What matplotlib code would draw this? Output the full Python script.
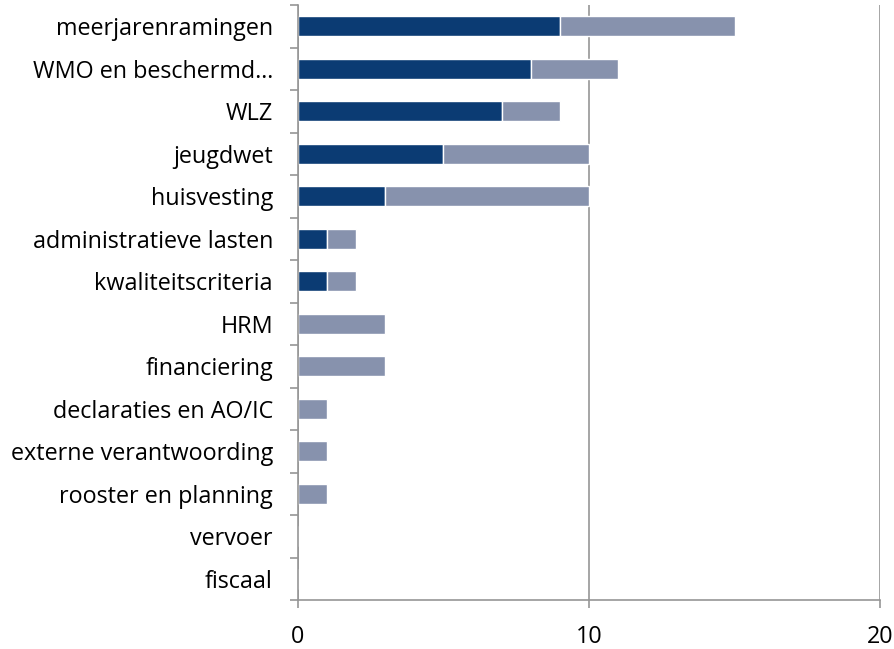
import matplotlib.pyplot as plt
import numpy as np

# Data
categories = ["meerjarenramingen", "WMO en beschermd…", "WLZ", "jeugdwet", "huisvesting",
              "administratieve lasten", "kwaliteitscriteria", "HRM", "financiering",
              "declaraties en AO/IC", "externe verantwoording", "rooster en planning",
              "vervoer", "fiscaal"]
series_a = [9, 8, 7, 5, 3, 1, 1, 0, 0, 0, 0, 0, 0, 0]
series_b = [6, 3, 2, 5, 7, 1, 1, 3, 3, 1, 1, 1, 0, 0]
x_ticks = [0, 10, 20]

plt.rcParams['font.family'] = ['Open Sans', 'DejaVu Sans']

fig = plt.figure(figsize=(8.95, 6.49), dpi=100)
ax = fig.add_axes([298 / 895, 1 - 600 / 649, 582 / 895, 595 / 649])

y = np.arange(len(categories))
ax.barh(y, series_a, height=0.47, color="#0B3B73", edgecolor="white", linewidth=1, zorder=2)
ax.barh(y, series_b, left=series_a, height=0.47, color="#8792AD", edgecolor="white", linewidth=1, zorder=2)

ax.set_ylim(len(categories) - 0.5, -0.5)
ax.set_xlim(0, 20)
ax.set_yticks(y)
ax.set_yticklabels(categories, fontsize=16.8)
ax.set_yticks(np.arange(-0.5, len(categories)), minor=True)
ax.tick_params(axis="y", which="major", length=0, pad=18)
ax.tick_params(axis="y", which="minor", length=6, color="#969696", width=1.2)
ax.set_xticks(x_ticks)
ax.tick_params(axis="x", length=6, color="#969696", width=1.2, labelsize=16.8, pad=12)

ax.grid(axis="x", color="#969696", linewidth=1.2, zorder=0)
for s in ["top", "right"]:
    ax.spines[s].set_visible(False)
for s in ["left", "bottom"]:
    ax.spines[s].set_color("#969696")
    ax.spines[s].set_linewidth(1.2)
    ax.spines[s].set_zorder(3)

fig.savefig("out.png", dpi=100)
